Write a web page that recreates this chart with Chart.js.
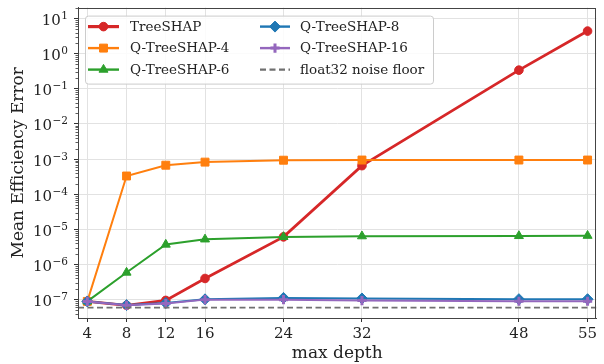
<!DOCTYPE html>
<html><head><meta charset="utf-8">
<script src="https://cdn.jsdelivr.net/npm/chart.js@4"></script>
<style>html,body{margin:0;padding:0;background:#fff}#wrap{width:604px;height:364px;position:relative}</style>
</head><body><div id="wrap"><canvas id="c"></canvas></div>
<script>
// ---- data ----
const depths = [4, 8, 12, 16, 24, 32, 48, 55];
const treeSHAP   = [8.9e-8, 6.9e-8, 9.5e-8, 4.0e-7, 6.1e-6, 6.5e-4, 0.34, 4.4];
const qTree4     = [8.9e-8, 3.3e-4, 6.7e-4, 8.2e-4, 9.3e-4, 9.4e-4, 9.4e-4, 9.4e-4];
const qTree6     = [8.9e-8, 5.9e-7, 3.7e-6, 5.2e-6, 6.1e-6, 6.4e-6, 6.5e-6, 6.6e-6];
const qTree8     = [8.9e-8, 7.0e-8, 8.0e-8, 1.02e-7, 1.12e-7, 1.08e-7, 1.03e-7, 1.03e-7];
const qTree16    = [8.9e-8, 6.9e-8, 7.7e-8, 1.0e-7, 1.0e-7, 9.4e-8, 9.0e-8, 9.0e-8];
const noiseFloor = 5.96e-8;
const seriesNames = ['TreeSHAP', 'Q-TreeSHAP-4', 'Q-TreeSHAP-6', 'Q-TreeSHAP-8', 'Q-TreeSHAP-16', 'float32 noise floor'];
const xTicks = [4, 8, 12, 16, 24, 32, 48, 55];
const yTickExponents = [-7, -6, -5, -4, -3, -2, -1, 0, 1];
const xLimits = [3.05, 55.9];
const yLimits = [3.1e-8, 20.5];

const FONT = "'DejaVu Serif', 'Liberation Serif', serif";
function expOf(v){ return Math.round(Math.log10(v)); }
const pts = arr => depths.map((d, i) => ({x: d, y: arr[i]}));

function series(label, arr, color, style, radius, lw, order, bw) {
  return {label, data: pts(arr), borderColor: color, backgroundColor: color,
    pointBackgroundColor: color, pointBorderColor: color, pointStyle: style,
    pointRadius: radius, pointBorderWidth: bw || 1, borderWidth: lw, order, tension: 0};
}
const datasets = [
  series(seriesNames[0], treeSHAP, '#d62728', 'circle', 4.3, 2.8, 6),
  series(seriesNames[1], qTree4, '#ff7f0e', 'rect', 5.6, 2, 5),
  series(seriesNames[2], qTree6, '#2ca02c', 'triangle', 5.2, 2, 4),
  series(seriesNames[3], qTree8, '#1f77b4', 'rectRot', 5.5, 2, 3),
  series(seriesNames[4], qTree16, '#9467bd', 'cross', 4.6, 2, 2, 3),
  {label: seriesNames[5], data: [{x: xLimits[0], y: noiseFloor}, {x: xLimits[1], y: noiseFloor}],
   borderColor: '#707070', backgroundColor: '#707070', borderWidth: 1.8, borderDash: [6, 3.5],
   pointRadius: 0, order: 1}
];

const framePlugin = {
  id: 'frame',
  afterDatasetsDraw(chart) {
    const {ctx, chartArea: a, scales} = chart;
    ctx.save();
    const y = scales.y;
    // minor log ticks
    ctx.strokeStyle = '#333'; ctx.lineWidth = 0.8;
    for (let e = -9; e <= 2; e++) {
      for (let k = 2; k <= 9; k++) {
        const v = k * Math.pow(10, e);
        if (v < yLimits[0] || v > yLimits[1]) continue;
        const py = Math.round(y.getPixelForValue(v)) + 0.5;
        ctx.beginPath(); ctx.moveTo(a.left - 2.5, py); ctx.lineTo(a.left, py); ctx.stroke();
      }
    }
    // y tick labels, mathtext style 10^n
    ctx.fillStyle = '#222';
    ctx.textBaseline = 'alphabetic';
    y.ticks.forEach(t => {
      const py = y.getPixelForValue(t.value);
      const e = expOf(t.value);
      const expStr = e < 0 ? '\u2212' + (-e) : String(e);
      ctx.font = '10.5px ' + FONT;
      const ew = ctx.measureText(expStr).width;
      const right = a.left - 10;
      ctx.textAlign = 'left';
      ctx.fillText(expStr, right - ew, py + 0.5);
      ctx.font = '15px ' + FONT;
      ctx.textAlign = 'right';
      ctx.fillText('10', right - ew - 0.5, py + 6.5);
    });
    // frame
    ctx.strokeStyle = '#444'; ctx.lineWidth = 1;
    ctx.strokeRect(Math.round(a.left) + 0.5, Math.round(a.top) + 0.5, Math.round(a.right - a.left) - 1, Math.round(a.bottom - a.top));
    // legend
    const L = a.left + 7, T = a.top + 8;
    const W = 348, H = 68;
    ctx.fillStyle = 'rgba(255,255,255,0.85)';
    ctx.strokeStyle = '#cccccc'; ctx.lineWidth = 1;
    ctx.beginPath();
    if (ctx.roundRect) ctx.roundRect(L + 0.5, T + 0.5, W, H, 3); else ctx.rect(L + 0.5, T + 0.5, W, H);
    ctx.fill(); ctx.stroke();
    const rows = [T + 11, T + 32.5, T + 54];
    const cols = [{x0: L + 3, x1: L + 34, tx: L + 45}, {x0: L + 175, x1: L + 205, tx: L + 215}];
    ctx.font = '13.5px ' + FONT;
    ctx.textBaseline = 'middle';
    ctx.textAlign = 'left';
    datasets.forEach((ds, i) => {
      const c = cols[Math.floor(i / 3)], ry = rows[i % 3];
      ctx.save();
      ctx.strokeStyle = ds.borderColor; ctx.lineWidth = ds.borderWidth + 0.4;
      ctx.setLineDash(ds.borderDash || []);
      ctx.beginPath(); ctx.moveTo(c.x0, ry); ctx.lineTo(c.x1, ry); ctx.stroke();
      ctx.setLineDash([]);
      if (ds.pointRadius > 0) {
        ctx.fillStyle = ds.pointBackgroundColor; ctx.strokeStyle = ds.pointBorderColor;
        ctx.lineWidth = ds.pointBorderWidth;
        Chart.helpers.drawPoint(ctx, {pointStyle: ds.pointStyle, radius: ds.pointRadius, borderWidth: ds.pointBorderWidth, rotation: 0}, (c.x0 + c.x1) / 2, ry);
      }
      ctx.restore();
      ctx.fillStyle = '#222';
      ctx.fillText(ds.label, c.tx, ry + 0.5);
    });
    ctx.restore();
  }
};

new Chart(document.getElementById('c'), {
  type: 'line',
  data: {datasets},
  options: {
    responsive: true, maintainAspectRatio: false, animation: false, devicePixelRatio: 1,
    layout: {padding: {top: 7, right: 2, left: 0, bottom: 0}},
    plugins: {legend: {display: false}, tooltip: {enabled: false}},
    elements: {line: {tension: 0}},
    scales: {
      x: {
        type: 'linear', min: xLimits[0], max: xLimits[1],
        afterBuildTicks: s => { s.ticks = xTicks.map(v => ({value: v})); },
        afterFit: s => { s.height = 46; },
        grid: {color: '#e2e2e2', lineWidth: 1, tickColor: '#333', tickLength: 4, drawTicks: true},
        border: {color: '#444', width: 1},
        ticks: {font: {family: FONT, size: 15}, color: '#222', padding: 3, maxRotation: 0, autoSkip: false,
          callback: v => String(v)},
        title: {display: true, text: 'max depth', font: {family: FONT, size: 17}, color: '#222', padding: {top: 0, bottom: 0}}
      },
      y: {
        type: 'logarithmic', min: yLimits[0], max: yLimits[1],
        afterBuildTicks: s => { s.ticks = yTickExponents.map(e => ({value: Math.pow(10, e), major: true})); },
        afterFit: s => { s.width = 78; },
        grid: {color: '#e2e2e2', lineWidth: 1, tickColor: '#333', tickLength: 4},
        border: {color: '#444', width: 1},
        ticks: {display: false},
        title: {display: true, text: 'Mean Efficiency Error', font: {family: FONT, size: 17}, color: '#222', padding: {top: 8, bottom: 0}}
      }
    }
  },
  plugins: [framePlugin]
});
</script>
</body></html>
